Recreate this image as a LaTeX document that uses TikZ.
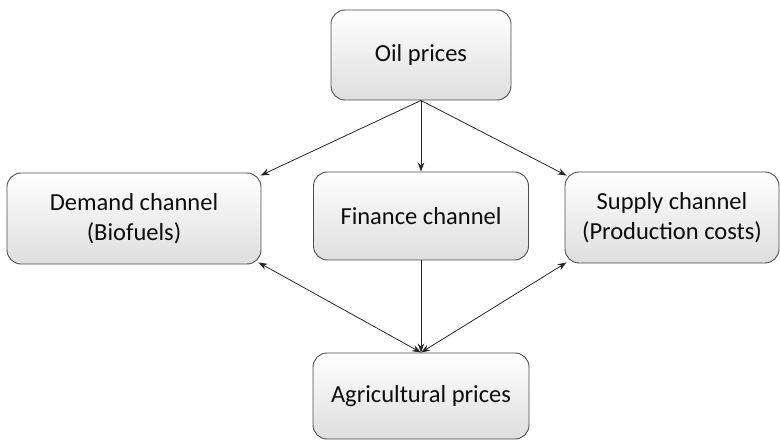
\documentclass[tikz,border=0pt]{standalone}
\usepackage{fontspec}
\setmainfont{Carlito}
\usetikzlibrary{arrows.meta}
\usetikzlibrary{positioning}

\begin{document}
\begin{tikzpicture}[x=1pt,y=1pt,
    >={Stealth[length=9pt,width=6.5pt]},
    box/.style={draw=black!70, line width=0.9pt, rounded corners=14pt,
      top color=white, bottom color=black!13, align=center,
      font=\fontsize{24.5}{30}\selectfont, text=black!95, inner sep=0pt},
    link/.style={draw=black!85, line width=0.8pt}]

  % Fix the canvas
  \useasboundingbox (0,0) rectangle (780,440);

  % Draw the boxes
  \node[box, minimum width=180pt, minimum height=90pt] (oil) at (421,385) {Oil prices};
  \node[box, minimum width=254pt, minimum height=91pt] (demand) at (134,221.5) {Demand channel\\(Biofuels)};
  \node[box, minimum width=215pt, minimum height=88pt] (finance) at (421,224) {Finance channel};
  \node[box, minimum width=214pt, minimum height=91pt] (supply) at (672,222.5) {Supply channel\\(Production costs)};
  \node[box, minimum width=216pt, minimum height=86pt] (agri) at (421,44) {Agricultural prices};

  % Oil prices into the three channels
  \draw[link,->] (oil.south) -- ([shift={(-1,-3)}]demand.north east);
  \draw[link,->] (oil.south) -- (finance.north);
  \draw[link,->] (oil.south) -- ([shift={(2,-4)}]supply.north west);

  % Channels and agricultural prices
  \draw[link,<->] ([shift={(-3,2)}]demand.south east) -- (agri.north);
  \draw[link,->] (finance.south) -- (agri.north);
  \draw[link,<->] ([shift={(2,1)}]supply.south west) -- (agri.north);
\end{tikzpicture}
\end{document}
